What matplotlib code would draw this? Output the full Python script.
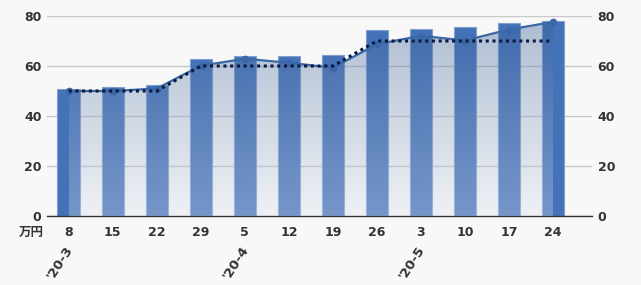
import numpy as np
import matplotlib.pyplot as plt
from matplotlib.transforms import blended_transform_factory

plt.rcParams['font.family'] = ['DejaVu Sans', 'Noto Sans CJK JP']

# 週ラベルと月ラベル
weeks = ['8', '15', '22', '29', '5', '12', '19', '26', '3', '10', '17', '24']
month_pos = [0, 4, 8]
month_labels = ["'20-3", "'20-4", "'20-5"]

bar_vals = [50.9, 51.7, 52.6, 62.9, 64.2, 64.2, 64.4, 74.6, 74.7, 75.6, 77.4, 78.0]
line_vals = [50.0, 50.0, 51.0, 60.1, 62.9, 61.3, 59.3, 68.7, 72.1, 70.2, 74.6, 77.6]
dot_vals = [50, 50, 50, 60, 60, 60, 60, 70, 70, 70, 70, 70]

bg = '#f8f8f8'
txt = '#333333'

fig = plt.figure(figsize=(6.41, 2.85), dpi=100, facecolor=bg)
ax = fig.add_axes([47 / 641, 69 / 285, 545 / 641, 200 / 285], facecolor=bg)

x = np.arange(len(weeks))

ax.set_ylim(0, 80)
ax.set_xlim(-0.493, 11.886)
ax.set_yticks([0, 20, 40, 60, 80])
ax.grid(axis='y', color='#c8c8c8', linewidth=1, zorder=0)
ax.set_axisbelow(True)

ax.bar(x, bar_vals, width=0.51, color='#4472b8', edgecolor='#7f9fd0',
       linewidth=0.8, zorder=2)

# グラデーション付きの面
poly = ax.fill_between(x, 0, line_vals, color='none', zorder=3)
n = 256
top = np.array([52, 92, 148, 0.38 * 255]) / 255
bot = np.array([218, 224, 238, 0.33 * 255]) / 255
t = np.linspace(0, 1, n)[:, None]
grad = (top * (1 - t) + bot * t)[:, None, :]
im = ax.imshow(grad, extent=[x[0], x[-1], 0, max(line_vals)], aspect='auto',
               origin='upper', zorder=3, interpolation='bilinear')
im.set_clip_path(poly.get_paths()[0], transform=ax.transData)

ax.plot(x, line_vals, color='#3a68a6', linewidth=1.6, marker='o',
        markersize=4.5, zorder=4)
ax.plot(x, dot_vals, color='#0b1a3e', linewidth=2.2, linestyle=(0, (1, 1.2)),
        zorder=5)

for s in ['top', 'left', 'right']:
    ax.spines[s].set_visible(False)
ax.spines['bottom'].set_color('#333333')
ax.spines['bottom'].set_linewidth(1)

ax.set_xticks(x)
ax.set_xticklabels(weeks)
ax.tick_params(axis='x', length=0, pad=7, labelsize=9, labelcolor=txt)
ax.tick_params(axis='y', length=0, pad=4, labelsize=9, labelcolor=txt,
               labelright=True)
for lab in ax.get_xticklabels():
    lab.set_fontweight('bold')
for tk in ax.yaxis.get_major_ticks():
    tk.label1.set_fontweight('bold')
    tk.label2.set_fontweight('bold')
    tk.label2.set_color(txt)

trans = blended_transform_factory(ax.transData, ax.transAxes)
ax.text(-0.86, -0.08, '万円', transform=trans, ha='center', va='center',
        fontsize=9, fontweight='bold', color=txt,
        family=['Noto Sans CJK JP', 'DejaVu Sans'])

for p, m in zip(month_pos, month_labels):
    ax.text(p - 0.1, -0.135, m, transform=trans, ha='right', va='top',
            rotation=57, rotation_mode='anchor', fontsize=9.5,
            fontweight='bold', color=txt)

fig.savefig('out.png', dpi=100, facecolor=bg)
